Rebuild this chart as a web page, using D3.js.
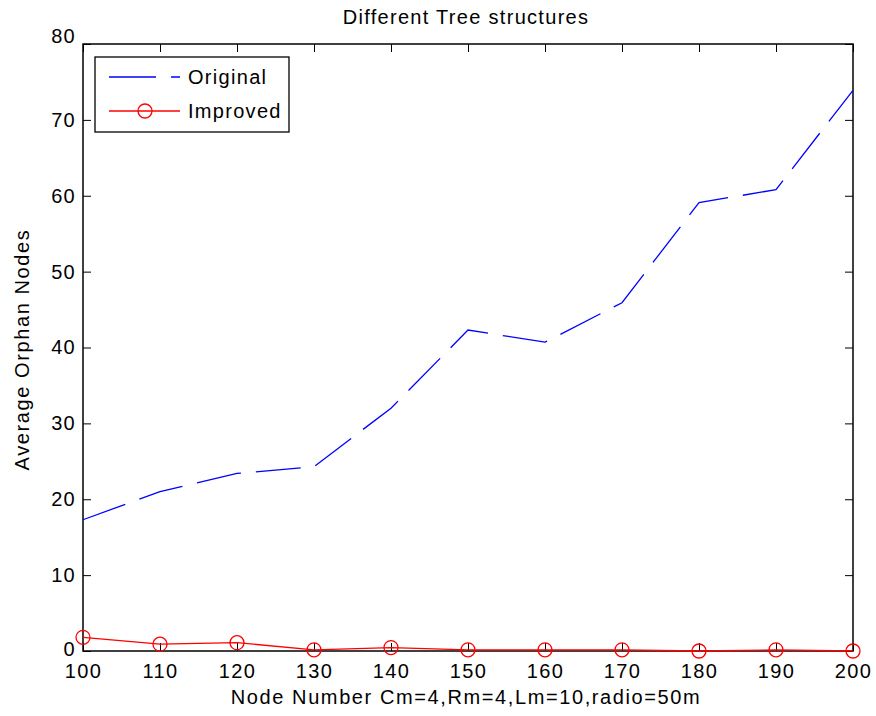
<!DOCTYPE html>
<html>
<head>
<meta charset="utf-8">
<script src="https://cdn.jsdelivr.net/npm/d3@7"></script>
<style>
  html, body { margin: 0; padding: 0; background: #fff; }
  svg { display: block; font-family: "Liberation Sans", Arial, sans-serif; }
  svg text { letter-spacing: 1.3px; }
</style>
</head>
<body>
<svg id="chart" width="876" height="716"></svg>
<script>
// Node counts on the x axis
const nodeNumbers = [100, 110, 120, 130, 140, 150, 160, 170, 180, 190, 200];
// Average orphan nodes per tree structure
const originalValues = [17.3, 21.0, 23.4, 24.3, 32.0, 42.3, 40.7, 45.9, 59.1, 60.8, 73.9];
const improvedValues = [1.8, 0.9, 1.1, 0.15, 0.45, 0.15, 0.15, 0.15, 0.0, 0.15, 0.0];
const xTicks = [100, 110, 120, 130, 140, 150, 160, 170, 180, 190, 200];
const yTicks = [0, 10, 20, 30, 40, 50, 60, 70, 80];
const seriesNames = ["Original", "Improved"];

const svg = d3.select("#chart");
const W = 876, H = 716;
const margin = { left: 83, top: 44, right: W - 853, bottom: H - 651 };
const x0 = margin.left, x1 = W - margin.right, y0 = H - margin.bottom, y1 = margin.top;

const x = d3.scaleLinear().domain([100, 200]).range([x0, x1]);
const y = d3.scaleLinear().domain([0, 80]).range([y0, y1]);

const tickLen = 8;
const fontSize = "20px";

// Axes with inward ticks on all four sides
const axisB = d3.axisBottom(x).tickValues(xTicks).tickSize(-tickLen).tickPadding(13).tickFormat(d3.format("d"));
const axisT = d3.axisTop(x).tickValues(xTicks).tickSize(-tickLen).tickFormat("");
const axisL = d3.axisLeft(y).tickValues(yTicks).tickSize(-tickLen).tickPadding(7).tickFormat(d3.format("d"));
const axisR = d3.axisRight(y).tickValues(yTicks).tickSize(-tickLen).tickFormat("");

function style(g) {
  g.select(".domain").remove();
  g.selectAll(".tick line").attr("stroke", "#000").attr("stroke-width", 1);
  g.selectAll(".tick text").attr("fill", "#000").style("font-size", fontSize)
    .style("font-family", "'Liberation Sans', Arial, sans-serif");
}

svg.append("g").attr("transform", `translate(0,${y0})`).call(axisB).call(style);
svg.append("g").attr("transform", `translate(0,${y1})`).call(axisT).call(style);
const gLeft = svg.append("g").attr("transform", `translate(${x0},0)`).call(axisL).call(style);
svg.append("g").attr("transform", `translate(${x1},0)`).call(axisR).call(style);

// The end labels of the y axis sit slightly off their ticks, clear of the corners
gLeft.selectAll(".tick text").filter(d => d === 80).attr("dy", "-0.08em");
gLeft.selectAll(".tick text").filter(d => d === 0).attr("dy", "0.2em");

// Frame
svg.append("rect").attr("x", x0).attr("y", y1).attr("width", x1 - x0).attr("height", y0 - y1)
  .attr("fill", "none").attr("stroke", "#000").attr("stroke-width", 1.5);

// Series lines
const line = d3.line().x((d, i) => x(nodeNumbers[i])).y(d => y(d));

svg.append("path").datum(originalValues)
  .attr("d", line).attr("fill", "none").attr("stroke", "#0000ff")
  .attr("stroke-width", 1.3).attr("stroke-dasharray", "45,15");

svg.append("path").datum(improvedValues)
  .attr("d", line).attr("fill", "none").attr("stroke", "#ff0000").attr("stroke-width", 1.3);

svg.append("g").selectAll("circle").data(improvedValues).join("circle")
  .attr("cx", (d, i) => x(nodeNumbers[i])).attr("cy", d => y(d)).attr("r", 7)
  .attr("fill", "none").attr("stroke", "#ff0000").attr("stroke-width", 1.3);

// Title and axis labels
svg.append("text").attr("x", (x0 + x1) / 2 - 2).attr("y", 24).attr("text-anchor", "middle")
  .style("font-size", fontSize).text("Different Tree structures");

svg.append("text").attr("x", (x0 + x1) / 2 - 2).attr("y", 704).attr("text-anchor", "middle")
  .style("font-size", fontSize).style("letter-spacing", "1.6px")
  .text("Node Number Cm=4,Rm=4,Lm=10,radio=50m");

svg.append("text").attr("transform", `translate(29,${(y0 + y1) / 2 + 2}) rotate(-90)`)
  .attr("text-anchor", "middle").style("font-size", fontSize).style("letter-spacing", "1.6px")
  .text("Average Orphan Nodes");

// Legend
const lg = svg.append("g");
lg.append("rect").attr("x", 95).attr("y", 57).attr("width", 194).attr("height", 75)
  .attr("fill", "#fff").attr("stroke", "#000").attr("stroke-width", 1.3);
lg.append("line").attr("x1", 109).attr("x2", 180).attr("y1", 77).attr("y2", 77)
  .attr("stroke", "#0000ff").attr("stroke-width", 1.3).attr("stroke-dasharray", "47,15");
lg.append("line").attr("x1", 109).attr("x2", 180).attr("y1", 111).attr("y2", 111)
  .attr("stroke", "#ff0000").attr("stroke-width", 1.3);
lg.append("circle").attr("cx", 145).attr("cy", 111).attr("r", 7)
  .attr("fill", "none").attr("stroke", "#ff0000").attr("stroke-width", 1.3);
lg.append("text").attr("x", 188).attr("y", 84).style("font-size", fontSize).text(seriesNames[0]);
lg.append("text").attr("x", 188).attr("y", 118).style("font-size", fontSize).text(seriesNames[1]);
</script>
</body>
</html>
